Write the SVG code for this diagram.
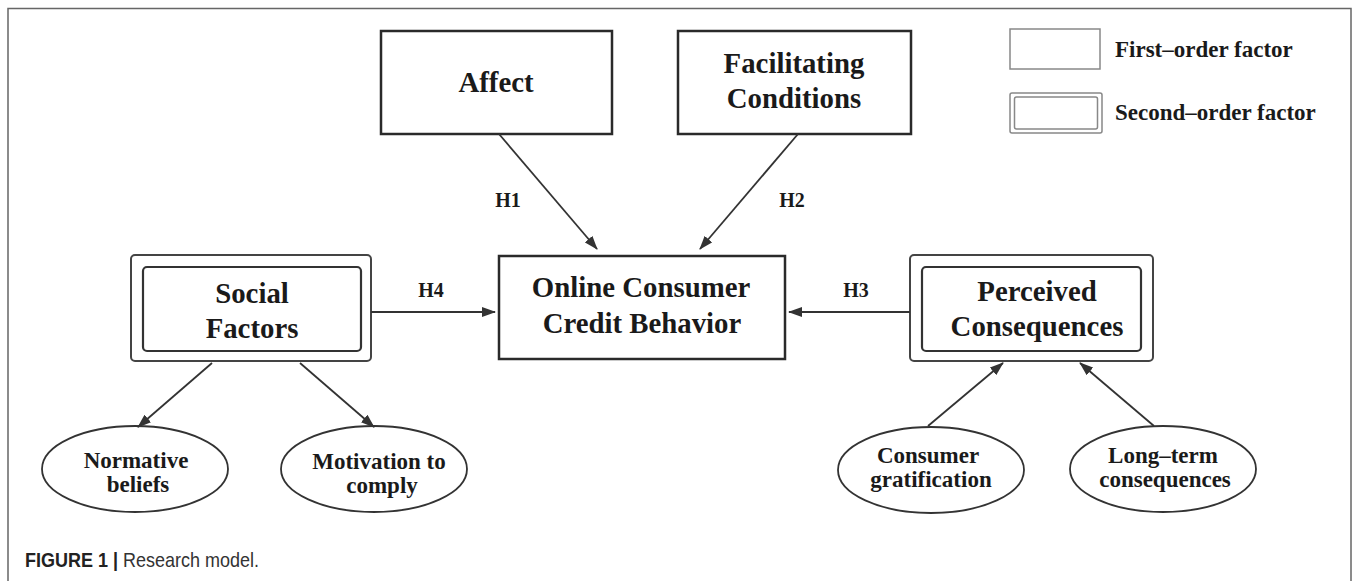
<svg xmlns="http://www.w3.org/2000/svg" width="1357" height="581" viewBox="0 0 1357 581">
<style>
.bg{fill:#ffffff}
.frame{fill:none;stroke:#666;stroke-width:1.5}
.box{fill:#fff;stroke:#2a2a2a;stroke-width:2.5}
.outer{fill:#fff;stroke:#444;stroke-width:2}
.inner{fill:#fff;stroke:#333;stroke-width:2.2}
.leg{fill:#fff;stroke:#888;stroke-width:1.5}
.ell{fill:#fff;stroke:#333;stroke-width:1.8}
.t{font-family:"Liberation Serif",serif;font-weight:bold;fill:#1a1a1a;text-anchor:middle}
.big{font-size:28.8px}
.sm{font-size:23px}
.lab{font-size:20px}
.legt{font-family:"Liberation Serif",serif;font-weight:bold;fill:#1a1a1a;font-size:23px}
.conn line{stroke:#333;stroke-width:1.8;marker-end:url(#ah)}
.cap{font-family:"Liberation Sans",Arial,sans-serif;font-size:20px;fill:#333}
</style>
<defs>
<marker id="ah" markerUnits="userSpaceOnUse" markerWidth="14" markerHeight="10" refX="13" refY="5" orient="auto">
<path d="M0,0 L14,5 L0,10 z" fill="#333"/>
</marker>
</defs>
<rect class="bg" x="0" y="0" width="1357" height="581"/>
<rect class="frame" x="8" y="8.5" width="1343" height="620"/>

<g id="affect">
<rect class="box" x="381" y="31" width="231" height="103"/>
<text class="t big" x="496" y="92">Affect</text>
</g>
<g id="facilitating">
<rect class="box" x="678" y="31" width="233" height="103"/>
<text class="t big" x="794" y="73">Facilitating</text>
<text class="t big" x="794" y="108">Conditions</text>
</g>
<g id="legend">
<rect class="leg" x="1010" y="29" width="90" height="40"/>
<text class="legt" x="1115" y="57">First–order factor</text>
<rect class="leg" x="1010" y="93" width="92" height="40" rx="2"/>
<rect class="leg" x="1014.5" y="97" width="83" height="32" rx="2"/>
<text class="legt" x="1115" y="120">Second–order factor</text>
</g>
<g id="online">
<rect class="box" x="499" y="256" width="286" height="103"/>
<text class="t big" x="641" y="297">Online Consumer</text>
<text class="t big" x="642" y="333">Credit Behavior</text>
</g>
<g id="social">
<rect class="outer" x="131" y="255" width="240" height="106" rx="4"/>
<rect class="inner" x="143" y="267" width="218" height="84" rx="4"/>
<text class="t big" x="252" y="303">Social</text>
<text class="t big" x="252" y="338">Factors</text>
</g>
<g id="perceived">
<rect class="outer" x="910" y="255" width="243" height="106" rx="4"/>
<rect class="inner" x="922" y="267" width="219" height="84" rx="4"/>
<text class="t big" x="1037" y="301">Perceived</text>
<text class="t big" x="1037" y="336">Consequences</text>
</g>
<g id="normative">
<ellipse class="ell" cx="135" cy="469" rx="93" ry="43"/>
<text class="t sm" x="136" y="468">Normative</text>
<text class="t sm" x="138" y="492">beliefs</text>
</g>
<g id="motivation">
<ellipse class="ell" cx="374" cy="469" rx="93" ry="43"/>
<text class="t sm" x="379" y="469">Motivation to</text>
<text class="t sm" x="382" y="493">comply</text>
</g>
<g id="gratification">
<ellipse class="ell" cx="931" cy="470" rx="93" ry="43"/>
<text class="t sm" x="928" y="463">Consumer</text>
<text class="t sm" x="931" y="487">gratification</text>
</g>
<g id="longterm">
<ellipse class="ell" cx="1163" cy="469" rx="93" ry="43"/>
<text class="t sm" x="1163" y="463">Long–term</text>
<text class="t sm" x="1165" y="487">consequences</text>
</g>

<g id="connectors" class="conn">
<line x1="499" y1="134" x2="597" y2="249"/>
<line x1="798" y1="134" x2="700" y2="249"/>
<line x1="371" y1="312" x2="495" y2="312"/>
<line x1="910" y1="312" x2="789" y2="312"/>
<line x1="212" y1="363" x2="138" y2="427"/>
<line x1="300" y1="363" x2="374" y2="427"/>
<line x1="928" y1="426" x2="1003" y2="363"/>
<line x1="1154" y1="426" x2="1080" y2="363"/>
</g>
<g id="labels">
<text class="t lab" x="508" y="207">H1</text>
<text class="t lab" x="792" y="207">H2</text>
<text class="t lab" x="856" y="297">H3</text>
<text class="t lab" x="431" y="297">H4</text>
</g>
<text class="cap" transform="translate(25,567) scale(0.9,1)"><tspan font-weight="bold" fill="#222">FIGURE 1</tspan><tspan font-weight="bold" fill="#222"> | </tspan>Research model.</text>
</svg>
